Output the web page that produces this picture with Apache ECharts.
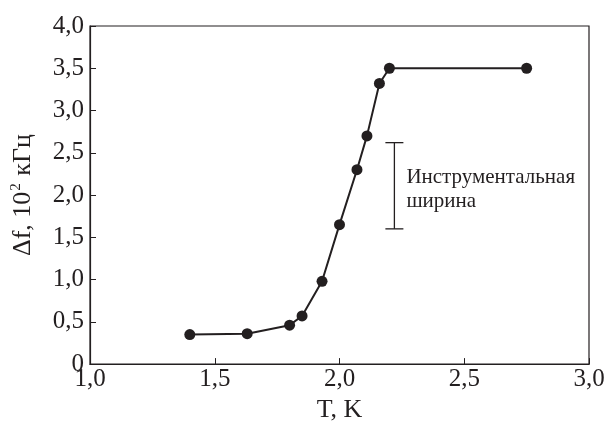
<!DOCTYPE html>
<html>
<head>
<meta charset="utf-8">
<script src="https://cdn.jsdelivr.net/npm/echarts@6/dist/echarts.min.js"></script>
<style>
  html, body { margin: 0; padding: 0; background: #fff; }
  #chart { width: 608px; height: 428px; }
</style>
</head>
<body>
<div id="chart"></div>
<script>
// temperature, K
const temps = [1.40, 1.63, 1.80, 1.85, 1.93, 2.00, 2.07, 2.11, 2.16, 2.20, 2.75];
// line width, 10^2 kHz
const widths = [0.35, 0.36, 0.46, 0.57, 0.98, 1.65, 2.30, 2.70, 3.32, 3.50, 3.50];
// instrumental width bar
const barX = [2.22];
const barLow = [1.60];
const barHigh = [2.62];
const barText = ['Инструментальная', 'ширина'];

const FONT = '"Liberation Serif", "DejaVu Serif", serif';
const INK = '#231f20';
const fmt = v => (v === 0 ? '0' : v.toFixed(1).replace('.', ','));

const chart = echarts.init(document.getElementById('chart'));

chart.setOption({
  animation: false,
  backgroundColor: '#fff',
  grid: {
    left: 90, right: 19, top: 26, bottom: 60,
    show: true, borderColor: INK, borderWidth: 1.2
  },
  xAxis: {
    type: 'value', min: 1, max: 3, interval: 0.5,
    name: 'T, K', nameLocation: 'middle', nameGap: 32,
    nameTextStyle: {fontFamily: FONT, fontSize: 26, color: INK},
    axisLine: {lineStyle: {color: INK, width: 1.2}},
    axisTick: {inside: true, length: 6, lineStyle: {color: INK}},
    axisLabel: {fontFamily: FONT, fontSize: 25, color: INK, margin: 3, formatter: fmt},
    splitLine: {show: false}
  },
  yAxis: {
    type: 'value', min: 0, max: 4, interval: 0.5,
    name: '{a|Δf, 10}{s|2}{a| кГц}', nameLocation: 'middle', nameGap: 52, nameRotate: 90,
    nameTextStyle: {
      rich: {
        a: {fontFamily: FONT, fontSize: 26, color: INK},
        s: {fontFamily: FONT, fontSize: 15, color: INK, verticalAlign: 'top', padding: [0, 1, 14, 1]}
      }
    },
    axisLine: {lineStyle: {color: INK, width: 1.2}},
    axisTick: {inside: true, length: 6, lineStyle: {color: INK}},
    axisLabel: {fontFamily: FONT, fontSize: 25, color: INK, margin: 6, formatter: fmt},
    splitLine: {show: false}
  },
  series: [
    {
      type: 'line',
      data: temps.map((t, i) => [t, widths[i]]),
      symbol: 'circle', symbolSize: 11,
      lineStyle: {color: INK, width: 2},
      itemStyle: {color: INK}
    },
    {
      type: 'custom',
      data: barX.map((x, i) => [x, barLow[i], barHigh[i]]),
      renderItem: (params, api) => {
        const lo = api.coord([api.value(0), api.value(1)]);
        const hi = api.coord([api.value(0), api.value(2)]);
        const cap = 9;
        const st = {stroke: INK, lineWidth: 1.3};
        const mid = (lo[1] + hi[1]) / 2;
        return {
          type: 'group',
          children: [
            {type: 'line', shape: {x1: hi[0], y1: hi[1], x2: lo[0], y2: lo[1]}, style: st},
            {type: 'line', shape: {x1: hi[0] - cap, y1: hi[1], x2: hi[0] + cap, y2: hi[1]}, style: st},
            {type: 'line', shape: {x1: lo[0] - cap, y1: lo[1], x2: lo[0] + cap, y2: lo[1]}, style: st},
            {type: 'text', x: hi[0] + 12, y: mid - 8,
              style: {text: barText[0], font: '21px ' + FONT, fill: INK, verticalAlign: 'middle'}},
            {type: 'text', x: hi[0] + 12, y: mid + 16,
              style: {text: barText[1], font: '21px ' + FONT, fill: INK, verticalAlign: 'middle'}}
          ]
        };
      }
    }
  ]
});
</script>
</body>
</html>
